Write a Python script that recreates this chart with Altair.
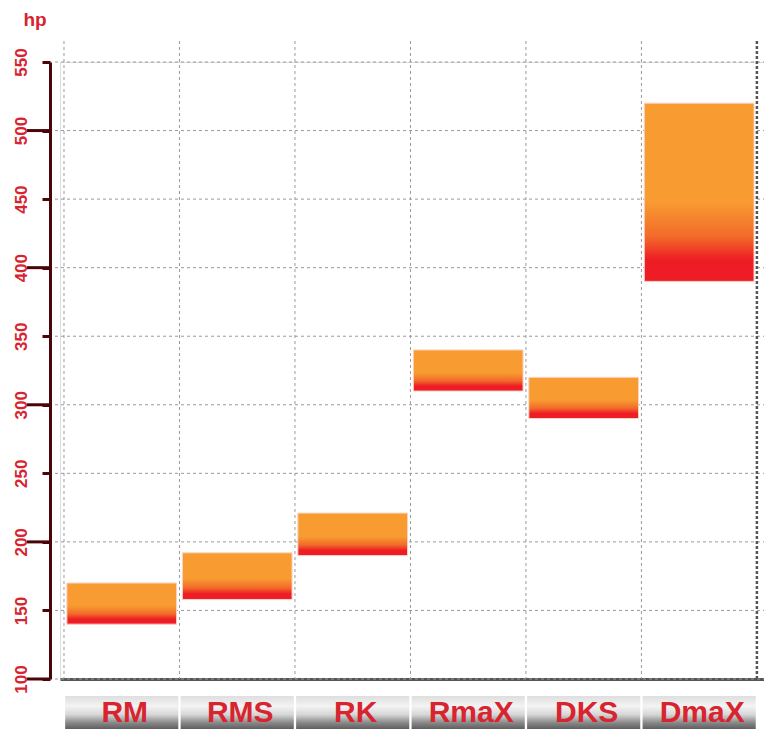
import altair as alt
import pandas as pd

models = ["RM", "RMS", "RK", "RmaX", "DKS", "DmaX"]
hp_low = [140, 158, 190, 310, 290, 390]
hp_high = [170, 192, 221, 340, 320, 520]
y_ticks = [100, 150, 200, 250, 300, 350, 400, 450, 500, 550]
y_major = [100, 200, 300, 400, 500]
y_title = "hp"

W, H = 704, 617
RED = "#d7242f"
AXIS = "#4a0508"

bars_df = pd.DataFrame({"model": models, "lo": hp_low, "hi": hp_high})
cat_df = pd.DataFrame({"model": models})
last_df = pd.DataFrame({"model": models[-1:]})
ticks_df = pd.DataFrame({"v": y_ticks})
major_df = pd.DataFrame({"v": y_major})
title_df = pd.DataFrame({"t": [y_title]})

xscale = alt.Scale(domain=models, paddingInner=0, paddingOuter=0.048, align=0.36)
yscale = alt.Scale(domain=[100, 550], nice=False, zero=False)

xenc_axis = alt.X(
    "model:N", scale=xscale, sort=models,
    axis=alt.Axis(title=None, labels=False, ticks=False, grid=False,
                  domainColor="#555555", domainWidth=3),
)
xenc_plain = alt.X("model:N", scale=xscale, sort=models)

# horizontal grid
hgrid = alt.Chart(ticks_df).mark_rule(color="#9a9a9a", strokeDash=[3, 3], strokeWidth=1).encode(
    y=alt.Y("v:Q", scale=yscale,
            axis=alt.Axis(title=None, offset=10, values=y_ticks, grid=False,
                          domainColor=AXIS, domainWidth=3, tickColor=AXIS,
                          tickWidth=3, tickSize=8, labelColor=RED,
                          labelFont="Liberation Sans", labelFontWeight="bold",
                          labelFontSize=17, labelAngle=270, labelAlign="center",
                          labelBaseline="bottom", labelPadding=12)),
    x=alt.value(-5), x2=alt.value(W + 10),
)

# vertical grid at band boundaries
vgrid = alt.Chart(cat_df).mark_rule(color="#9a9a9a", strokeDash=[3, 3], strokeWidth=1).encode(
    x=alt.X("model:N", scale=xscale, sort=models, bandPosition=0),
    y=alt.value(-21), y2=alt.value(H),
)
vlast = alt.Chart(last_df).mark_rule(color="#555555", strokeDash=[3, 2], strokeWidth=2.5).encode(
    x=alt.X("model:N", scale=xscale, sort=models, bandPosition=1),
    y=alt.value(-21), y2=alt.value(H),
)

# long major ticks on y axis
major = alt.Chart(major_df).mark_rule(color=AXIS, strokeWidth=3).encode(
    y=alt.Y("v:Q", scale=yscale), x=alt.value(-33), x2=alt.value(-10),
)

grad = alt.Gradient(
    gradient="linear", x1=0, x2=0, y1=0, y2=1,
    stops=[
        alt.GradientStop(color="#f89c31", offset=0),
        alt.GradientStop(color="#f89c31", offset=0.55),
        alt.GradientStop(color="#f26a2a", offset=0.75),
        alt.GradientStop(color="#ee1c25", offset=0.88),
        alt.GradientStop(color="#ee1c25", offset=1),
    ],
)
bars = alt.Chart(bars_df).mark_bar(
    color=grad, width={"band": 0.95}, stroke="#fbd3c4", strokeWidth=1
).encode(
    x=xenc_axis,
    y=alt.Y("hi:Q", scale=yscale),
    y2="lo:Q",
)

btn_grad = alt.Gradient(
    gradient="linear", x1=0, x2=0, y1=0, y2=1,
    stops=[
        alt.GradientStop(color="#dedede", offset=0),
        alt.GradientStop(color="#f3f3f3", offset=0.3),
        alt.GradientStop(color="#d6d6d6", offset=0.55),
        alt.GradientStop(color="#8a8a8a", offset=0.78),
        alt.GradientStop(color="#585858", offset=1),
    ],
)
buttons = alt.Chart(cat_df).mark_bar(color=btn_grad, width={"band": 0.98}, clip=False).encode(
    x=xenc_plain, y=alt.value(H + 17), y2=alt.value(H + 51),
)
labels = alt.Chart(cat_df).mark_text(
    font="Liberation Sans", fontWeight="bold", fontSize=30, color=RED,
    baseline="middle", align="center", dx=3
).encode(
    x=xenc_plain, y=alt.value(H + 34), text="model:N",
)

ytitle = alt.Chart(title_df).mark_text(
    font="Liberation Sans", fontWeight="bold", fontSize=19, color=RED,
    align="center", baseline="alphabetic"
).encode(x=alt.value(-25), y=alt.value(-36), text="t:N")

chart = alt.layer(hgrid, vgrid, vlast, major, bars, buttons, labels, ytitle).properties(
    width=W, height=H,
    autosize=alt.AutoSizeParams(type="none"),
    padding={"left": 52, "top": 54, "right": 0, "bottom": 50},
).configure_view(stroke=None).configure(background="white")

chart.save("out.html", embed_options={"renderer": "svg", "actions": False})
